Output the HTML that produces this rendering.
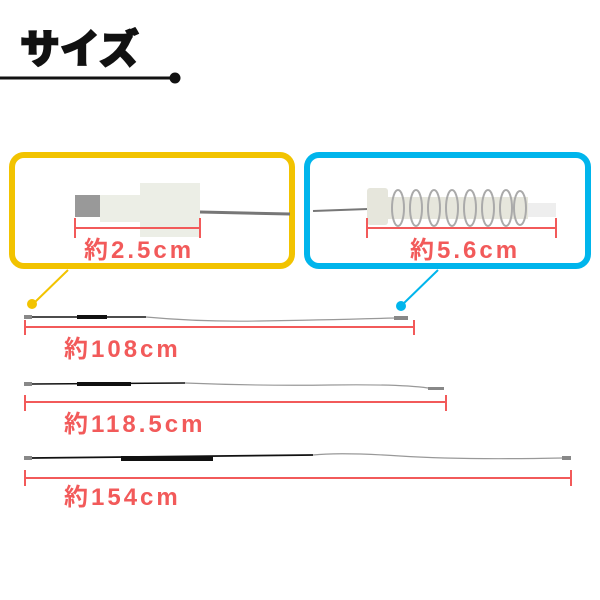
<!DOCTYPE html>
<html><head><meta charset="utf-8"><style>
html,body{margin:0;padding:0;background:#fff;width:600px;height:600px;overflow:hidden}
text{font-family:"Liberation Sans","Noto Sans CJK JP",sans-serif}
</style></head><body>
<svg width="600" height="600" viewBox="0 0 600 600" xmlns="http://www.w3.org/2000/svg">
<text x="20" y="63" font-size="40" font-weight="900" fill="#111" stroke="#111" stroke-width="1.5">サイズ</text>
<line x1="0" y1="78" x2="175" y2="78" stroke="#111" stroke-width="3"/>
<circle cx="175" cy="78" r="5.5" fill="#111"/>

<rect x="12" y="155" width="280" height="111" rx="12" fill="#fff" stroke="#f2c300" stroke-width="6"/>
<rect x="307" y="155" width="281" height="111" rx="12" fill="#fff" stroke="#00b5ec" stroke-width="6"/>
<line x1="68" y1="270" x2="33" y2="304" stroke="#f2c300" stroke-width="2"/>
<circle cx="32" cy="304" r="5" fill="#f2c300"/>
<line x1="438" y1="270" x2="402" y2="305" stroke="#00b5ec" stroke-width="2"/>
<circle cx="401" cy="306" r="5" fill="#00b5ec"/>

<!-- yellow inner part -->
<rect x="75" y="195" width="25" height="22" fill="#999"/>
<path d="M100 195 L140 195 L140 183 L200 183 L200 237 L140 237 L140 222 L100 222 Z" fill="#eceee6"/>
<line x1="200" y1="212" x2="290" y2="214" stroke="#777" stroke-width="3"/>
<line x1="75" y1="228" x2="200" y2="228" stroke="#f25a5a" stroke-width="2"/>
<line x1="75" y1="218" x2="75" y2="238" stroke="#f25a5a" stroke-width="2"/>
<line x1="200" y1="218" x2="200" y2="238" stroke="#f25a5a" stroke-width="2"/>
<text x="84" y="258" font-size="24" font-weight="bold" fill="#f25a5a" letter-spacing="3">約2.5cm</text>

<!-- blue inner part -->
<line x1="313" y1="211" x2="368" y2="209" stroke="#777" stroke-width="2"/>
<rect x="367" y="188" width="21" height="37" rx="3" fill="#e6e6dc"/>
<rect x="388" y="197" width="140" height="22" fill="#e6e6dc"/>
<rect x="528" y="203" width="28" height="14" fill="#eee"/>
<g stroke="#aaa" stroke-width="2" fill="none">
<ellipse cx="398" cy="208" rx="6" ry="18"/><ellipse cx="416" cy="208" rx="6" ry="18"/><ellipse cx="434" cy="208" rx="6" ry="18"/><ellipse cx="452" cy="208" rx="6" ry="18"/><ellipse cx="470" cy="208" rx="6" ry="18"/><ellipse cx="488" cy="208" rx="6" ry="18"/><ellipse cx="506" cy="208" rx="6" ry="18"/><ellipse cx="520" cy="208" rx="6" ry="17"/></g>
<line x1="367" y1="228" x2="556" y2="228" stroke="#f25a5a" stroke-width="2"/>
<line x1="367" y1="218" x2="367" y2="238" stroke="#f25a5a" stroke-width="2"/>
<line x1="556" y1="218" x2="556" y2="238" stroke="#f25a5a" stroke-width="2"/>
<text x="410" y="258" font-size="24" font-weight="bold" fill="#f25a5a" letter-spacing="3">約5.6cm</text>

<!-- cable 1 -->
<rect x="24" y="315" width="8" height="4" fill="#888"/>
<line x1="32" y1="317" x2="146" y2="317" stroke="#111" stroke-width="1.5"/>
<rect x="77" y="315" width="30" height="4" fill="#111"/>
<path d="M146 317 Q200 322 260 321 T395 318" stroke="#999" stroke-width="1.2" fill="none"/>
<rect x="394" y="316" width="14" height="4" fill="#888"/>
<line x1="25" y1="327" x2="414" y2="327" stroke="#f25a5a" stroke-width="2"/>
<line x1="25" y1="320" x2="25" y2="335" stroke="#f25a5a" stroke-width="2"/>
<line x1="414" y1="320" x2="414" y2="335" stroke="#f25a5a" stroke-width="2"/>
<text x="64" y="357" font-size="24" font-weight="bold" fill="#f25a5a" letter-spacing="3">約108cm</text>

<!-- cable 2 -->
<rect x="24" y="382" width="8" height="4" fill="#888"/>
<line x1="32" y1="384" x2="185" y2="383" stroke="#111" stroke-width="1.5"/>
<rect x="77" y="382" width="54" height="4" fill="#111"/>
<path d="M185 383 Q260 386 330 385 T428 388" stroke="#999" stroke-width="1.2" fill="none"/>
<rect x="428" y="387" width="16" height="3" fill="#888"/>
<line x1="25" y1="402" x2="446" y2="402" stroke="#f25a5a" stroke-width="2"/>
<line x1="25" y1="395" x2="25" y2="411" stroke="#f25a5a" stroke-width="2"/>
<line x1="446" y1="395" x2="446" y2="411" stroke="#f25a5a" stroke-width="2"/>
<text x="64" y="432" font-size="24" font-weight="bold" fill="#f25a5a" letter-spacing="3">約118.5cm</text>

<!-- cable 3 -->
<rect x="24" y="456" width="8" height="4" fill="#888"/>
<line x1="32" y1="458" x2="313" y2="455" stroke="#111" stroke-width="1.8"/>
<rect x="121" y="456" width="92" height="5" fill="#111"/>
<path d="M313 455 Q340 452 400 456 T562 458" stroke="#999" stroke-width="1.2" fill="none"/>
<rect x="562" y="456" width="9" height="4" fill="#888"/>
<line x1="25" y1="478" x2="571" y2="478" stroke="#f25a5a" stroke-width="2"/>
<line x1="25" y1="470" x2="25" y2="486" stroke="#f25a5a" stroke-width="2"/>
<line x1="571" y1="470" x2="571" y2="486" stroke="#f25a5a" stroke-width="2"/>
<text x="64" y="505" font-size="24" font-weight="bold" fill="#f25a5a" letter-spacing="3">約154cm</text>
</svg>
</body></html>
